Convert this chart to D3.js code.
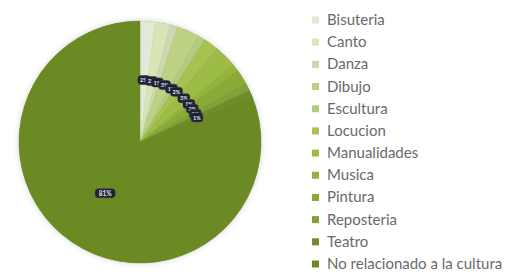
<!DOCTYPE html>
<html>
<head>
<meta charset="utf-8">
<script src="https://cdn.jsdelivr.net/npm/d3@7"></script>
<style>
	body { margin: 0; background: #ffffff; }
	svg { display: block; }
</style>
</head>
<body>
<svg id="chart"></svg>
<script>
// categories, values (%) and slice colours
const categories = ['Bisuteria', 'Canto', 'Danza', 'Dibujo', 'Escultura', 'Locucion',
	'Manualidades', 'Musica', 'Pintura', 'Reposteria', 'Teatro', 'No relacionado a la cultura'];
const values = [2, 2, 1, 3, 1, 2, 3, 1, 2, 1, 1, 81];
const colors = ['#e3e8d8', '#d8e5b6', '#cdd7b5', '#bcd184', '#b2cb83', '#a7c250',
	'#9dbb47', '#94b43e', '#89aa36', '#84a03a', '#6f8d2a', '#6b8a24'];

const width = 506;
const height = 280;
const cx = 140;
const cy = 142;
const radius = 121;

const svg = d3.select('#chart').attr('width', width).attr('height', height);

const defs = svg.append('defs');
defs.append('filter')
	.attr('id', 'shadow')
	.attr('x', '-20%').attr('y', '-20%')
	.attr('width', '140%').attr('height', '140%')
	.append('feDropShadow')
	.attr('dx', 0).attr('dy', 0)
	.attr('stdDeviation', 3)
	.attr('flood-color', '#000')
	.attr('flood-opacity', 0.18);

const pie = d3.pie().sort(null).value(d => d.value);
const arcs = pie(categories.map((c, i) => ({name: c, value: values[i], color: colors[i]})));

const arc = d3.arc().innerRadius(0).outerRadius(radius);
const labelArc = d3.arc().innerRadius(62).outerRadius(62);

const g = svg.append('g').attr('transform', `translate(${cx},${cy})`);

g.append('circle')
	.attr('r', radius)
	.attr('fill', '#6b8a24')
	.attr('filter', 'url(#shadow)');

g.selectAll('path.slice')
	.data(arcs)
	.enter()
	.append('path')
	.attr('class', 'slice')
	.attr('d', arc)
	.attr('fill', d => d.data.color)
	.attr('stroke', d => d.data.color)
	.attr('stroke-width', 0.5);

// dark label boxes with white text (they run together in the original too)
const labels = g.selectAll('g.lbl')
	.data(arcs)
	.enter()
	.append('g')
	.attr('class', 'lbl')
	.attr('transform', function(d) {
		const p = labelArc.centroid(d);
		return `translate(${p[0]},${p[1]})`;
	});

labels.append('rect')
	.attr('x', d => d.data.value >= 10 ? -10 : -6)
	.attr('y', -4.5)
	.attr('width', d => d.data.value >= 10 ? 20 : 12)
	.attr('height', 9)
	.attr('rx', 3)
	.attr('fill', '#1e2130')
	.attr('stroke', '#3a3f55')
	.attr('stroke-width', 0.6);

labels.append('text')
	.text(d => `${d.data.value}%`)
	.attr('text-anchor', 'middle')
	.attr('dy', 2.3)
	.style('font-family', 'Lato, "DejaVu Sans", sans-serif')
	.style('font-size', d => d.data.value >= 10 ? '6.5px' : '5.5px')
	.style('font-weight', 'bold')
	.style('fill', '#e8eaf2');

// legend
const legendY = d3.scalePoint()
	.domain(categories)
	.range([20, 264]);

const legend = svg.append('g')
	.selectAll('g')
	.data(arcs)
	.enter()
	.append('g')
	.attr('transform', d => `translate(312,${legendY(d.data.name)})`);

legend.append('rect')
	.attr('x', 0)
	.attr('y', -3.5)
	.attr('width', 7)
	.attr('height', 7)
	.attr('fill', d => d.data.color);

legend.append('text')
	.text(d => d.data.name)
	.attr('x', 15)
	.attr('dy', 5)
	.style('font-family', 'Lato, "Liberation Sans", sans-serif')
	.style('font-size', '15px')
	.style('fill', '#6a6a6a');
</script>
</body>
</html>
